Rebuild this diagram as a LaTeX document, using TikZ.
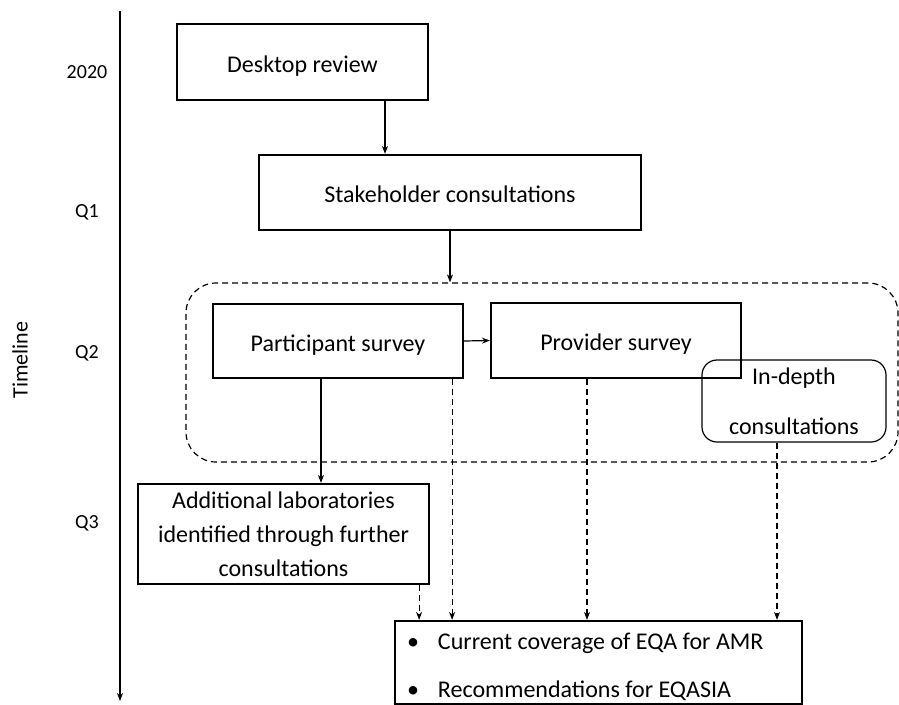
\documentclass[tikz,border=0pt]{standalone}
\usepackage{fontspec}
\setmainfont{Carlito}
\usetikzlibrary{arrows.meta,positioning}

\begin{document}
\begin{tikzpicture}[
  x=1pt,y=-1pt,
  >={Stealth[length=8pt,width=6pt]},
  box/.style={rectangle,draw=black,line width=2.2pt,inner sep=0pt,font=\fontsize{24}{29}\selectfont},
  oneline/.style={text height=23pt,text depth=3pt},
  roundbox/.style={rectangle,draw=black,line width=1.2pt,rounded corners=15pt,inner sep=0pt},
  flow/.style={->,line width=1.2pt},
  dflow/.style={->,line width=1.2pt,dash pattern=on 6pt off 4pt},
  qlabel/.style={font=\fontsize{20}{24}\selectfont}
]

\useasboundingbox (0,0) rectangle (899,704);

% timeline
\coordinate (axtop) at (120,11);
\coordinate (axbot) at (120,701);
\draw[flow,line width=1.4pt] (axtop) -- (axbot);
\node[qlabel,font=\fontsize{22}{26}\selectfont,rotate=90] (tline) at (20,360) {Timeline};
\foreach \lbl/\y [count=\i] in {2020/72,Q1/212,Q2/353,Q3/523}
  \node[qlabel] (q\i) at (87,\y) {\lbl};

% surveys group
\node[rectangle,draw,line width=1.2pt,dash pattern=on 6pt off 4pt,rounded corners=30pt,
  minimum width=712pt,minimum height=179pt] (grp) at (542,372.5) {};

\node[box,oneline,minimum width=251pt,minimum height=76pt] (desk) at (302.5,62) {Desktop review};
\node[box,oneline,minimum width=382pt,minimum height=75pt] (stake) at (450,192.5) {Stakeholder consultations};
\node[box,oneline,minimum width=250pt,minimum height=74pt] (part) at (338,341) {Participant survey};
\node[box,oneline,minimum width=250pt,minimum height=75pt] (prov) at (616,340.5) {Provider survey};
\node[roundbox,minimum width=184pt,minimum height=82pt,align=center,
  font=\fontsize{24}{50}\selectfont] (indep) at (794,401) {In-depth\\consultations};
\node[box,minimum width=291pt,minimum height=100pt,align=center,
  font=\fontsize{24}{34}\selectfont] (addl) at (283.5,534)
  {Additional laboratories\\identified through further\\consultations};
\node[box,text width=383pt,minimum height=83pt,inner xsep=12pt,align=flush left,text height=25pt,
  font=\fontsize{24}{48}\selectfont] (res) at (598.5,662.5)
  {\makebox[31pt][l]{\textbullet}Current coverage of EQA for AMR\\
   \makebox[31pt][l]{\textbullet}Recommendations for EQASIA};

\draw[flow] ([xshift=82.5pt]desk.south) -- ([xshift=82.5pt]desk.south |- stake.north);
\draw[flow] (stake.south) -- (stake.south |- grp.north);
\draw[flow] (part.east) -- (prov.west);
\draw[flow] ([xshift=-17pt]part.south) -- ([xshift=-17pt]part.south |- addl.north);

\draw[dflow] ([xshift=-11pt]addl.south east) -- ([xshift=-11pt]addl.south east |- res.north);
\draw[dflow] ([xshift=-12pt]part.south east) -- ([xshift=-12pt]part.south east |- res.north);
\draw[dflow] ([xshift=-29pt]prov.south) -- ([xshift=-29pt]prov.south |- res.north);
\draw[dflow] ([xshift=-17pt]indep.south) -- ([xshift=-17pt]indep.south |- res.north);

\end{tikzpicture}
\end{document}
